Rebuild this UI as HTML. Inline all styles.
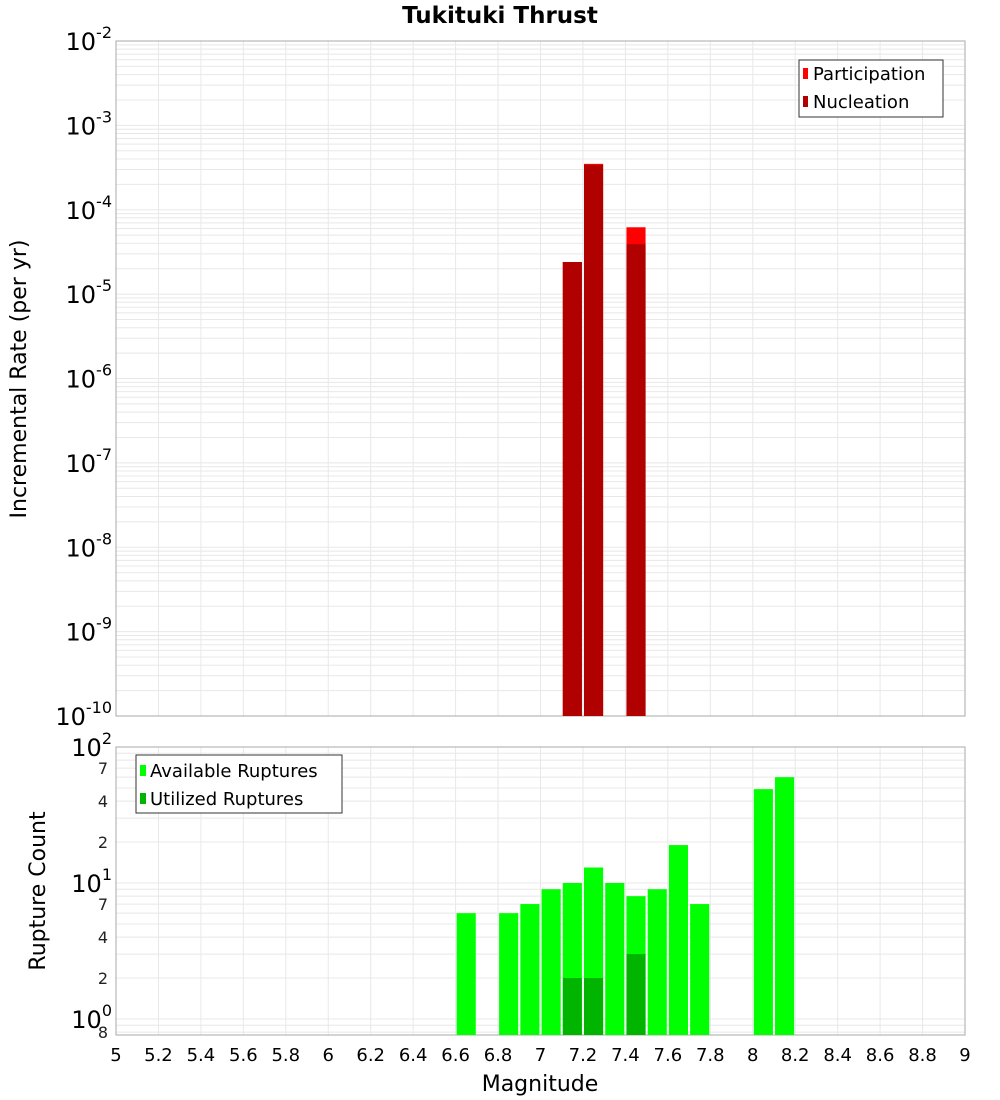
<!DOCTYPE html>
<html><head><meta charset="utf-8"><style>
body{margin:0;background:#fff;}
svg{display:block;font-family:"DejaVu Sans","Liberation Sans",sans-serif;}
</style></head><body>
<svg id="c" width="1000" height="1100"></svg>
<script>
const mags=[5,5.2,5.4,5.6,5.8,6,6.2,6.4,6.6,6.8,7,7.2,7.4,7.6,7.8,8,8.2,8.4,8.6,8.8,9];
const xTickLabels=["5","5.2","5.4","5.6","5.8","6","6.2","6.4","6.6","6.8","7","7.2","7.4","7.6","7.8","8","8.2","8.4","8.6","8.8","9"];
const rateMags=[7.15,7.25,7.45];
const participation=[2.4e-5,3.5e-4,6.2e-5];
const nucleation=[2.4e-5,3.4e-4,3.9e-5];
const countMags=[6.65,6.85,6.95,7.05,7.15,7.25,7.35,7.45,7.55,7.65,7.75,8.05,8.15];
const available=[6,6,7,9,10,13,10,8,9,19,7,49,60];
const utilMags=[7.15,7.25,7.45];
const utilized=[2,2,3];
const topExps=[-2,-3,-4,-5,-6,-7,-8,-9,-10];
const botExps=[2,1,0];
const botMinor=[2,4,7,20,40,70,0.8];

const NS="http://www.w3.org/2000/svg";
const svg=document.getElementById('c');
function el(t,a,p){const e=document.createElementNS(NS,t);for(const k in a)e.setAttribute(k,a[k]);(p||svg).appendChild(e);return e;}
const X0=116,X1=965;
const x=m=>X0+(m-5)/4*(X1-X0);
const T0=41,T1=716;
const yT=v=>T0+(-2-Math.log10(v))/8*(T1-T0);
const B0=747,B1=1035,bDec=136;
const yB=v=>B0+(2-Math.log10(v))*bDec;
const bw=0.09/4*(X1-X0);

// title
let t=el('text',{x:500,y:23,'text-anchor':'middle','font-size':23,'font-weight':'bold'});t.textContent='Tukituki Thrust';



// top plot grid
const gT=el('g',{});


for(let e=-10;e<-2;e++)for(let k=1;k<10;k++){const yy=yT(k*Math.pow(10,e));el('line',{x1:X0,x2:X1,y1:yy,y2:yy,stroke:'#e8e8e8','stroke-width':1},gT);}
mags.forEach(m=>{el('line',{x1:x(m),x2:x(m),y1:T0,y2:T1,stroke:'#e8e8e8'},gT);});
el('rect',{x:X0,y:T0,width:X1-X0,height:T1-T0,fill:'none',stroke:'#aaa'});

// top bars
rateMags.forEach((m,i)=>{
 let r=el('rect',{x:x(m)-bw/2,y:yT(participation[i]),width:bw,height:T1-yT(participation[i]),fill:'#ff0000'});
 
 
 r=el('rect',{x:x(m)-bw/2,y:yT(nucleation[i]),width:bw,height:T1-yT(nucleation[i]),fill:'#b00000'});
 
 
});
// top y labels
topExps.forEach(e=>{
 const tt=el('text',{x:112,y:yT(Math.pow(10,e))+9,'text-anchor':'end','font-size':24});
 
 
 tt.innerHTML='10<tspan dy="-12" font-size="16">'+e+'</tspan>';
});
t=el('text',{transform:'translate(26,379) rotate(-90)','text-anchor':'middle','font-size':22});t.textContent='Incremental Rate (per yr)';


// top legend
const lg=el('g',{});


el('rect',{x:799,y:60,width:144,height:57,fill:'#fff',stroke:'#333'},lg);
el('rect',{x:803,y:68,width:5,height:11,fill:'#ff0000'},lg);
el('rect',{x:803,y:96,width:5,height:11,fill:'#b00000'},lg);
t=el('text',{x:813,y:80,'font-size':18},lg);t.textContent='Participation';
t=el('text',{x:813,y:108,'font-size':18},lg);t.textContent='Nucleation';

// bottom grid
const gB=el('g',{});


[0.8,0.9,1,2,3,4,5,6,7,8,9,10,20,30,40,50,60,70,80,90].forEach(v=>{const yy=yB(v);el('line',{x1:X0,x2:X1,y1:yy,y2:yy,stroke:'#e8e8e8'},gB);});
mags.forEach(m=>{el('line',{x1:x(m),x2:x(m),y1:B0,y2:B1,stroke:'#e8e8e8'},gB);});
el('rect',{x:X0,y:B0,width:X1-X0,height:B1-B0,fill:'none',stroke:'#aaa'});
countMags.forEach((m,i)=>{
 const r=el('rect',{x:x(m)-bw/2,y:yB(available[i]),width:bw,height:B1-yB(available[i]),fill:'#00ff00'});
 
 
});
utilMags.forEach((m,i)=>{
 const r=el('rect',{x:x(m)-bw/2,y:yB(utilized[i]),width:bw,height:B1-yB(utilized[i]),fill:'#00b400'});
 
 
});
botExps.forEach(e=>{
 const tt=el('text',{x:112,y:yB(Math.pow(10,e))+9,'text-anchor':'end','font-size':24});
 
 
 tt.innerHTML='10<tspan dy="-12" font-size="16">'+e+'</tspan>';
});
botMinor.forEach(v=>{
 const s=String(v>=10?v/10:(v<1?v*10:v));
 const tt=el('text',{x:108,y:yB(v)+6,'text-anchor':'end','font-size':16,fill:'#222'});
 tt.textContent=s;
 
 
});
t=el('text',{transform:'translate(45,891) rotate(-90)','text-anchor':'middle','font-size':22});t.textContent='Rupture Count';


const lb=el('g',{});


el('rect',{x:136,y:755,width:206,height:58,fill:'#fff',stroke:'#333'},lb);
el('rect',{x:140,y:765,width:6,height:11,fill:'#00ff00'},lb);
el('rect',{x:140,y:793,width:6,height:11,fill:'#00b400'},lb);
t=el('text',{x:150,y:777,'font-size':18},lb);t.textContent='Available Ruptures';
t=el('text',{x:150,y:805,'font-size':18},lb);t.textContent='Utilized Ruptures';

mags.forEach((m,i)=>{
 const tt=el('text',{x:x(m),y:1061,'text-anchor':'middle','font-size':18});
 tt.textContent=xTickLabels[i];
 
 
});
t=el('text',{x:540,y:1091,'text-anchor':'middle','font-size':22});t.textContent='Magnitude';


</script>
</body></html>
